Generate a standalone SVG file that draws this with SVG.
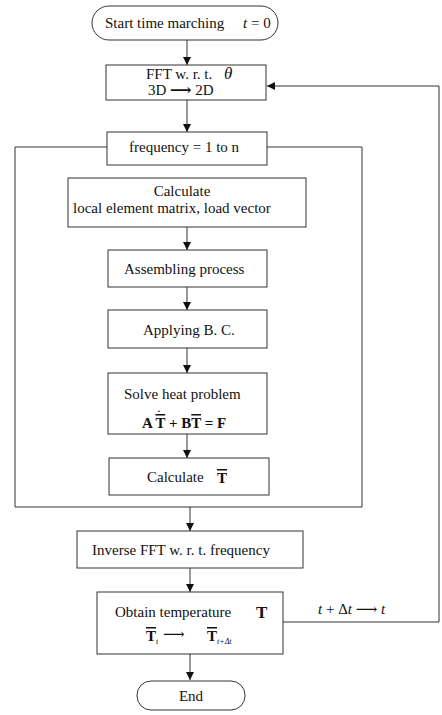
<svg xmlns="http://www.w3.org/2000/svg" width="442" height="715" viewBox="0 0 442 715">
<defs>
<marker id="ah" viewBox="0 0 10 10" refX="10" refY="5" markerWidth="8" markerHeight="8" markerUnits="userSpaceOnUse" orient="auto">
<path d="M0,0 L10,5 L0,10 z" fill="#111"/>
</marker>
<style>
.box{fill:#fff;stroke:#333;stroke-width:1}
.ln{fill:none;stroke:#333;stroke-width:1}
.ar{fill:none;stroke:#333;stroke-width:1;marker-end:url(#ah)}
text{font-family:"Liberation Serif","DejaVu Serif",serif;font-size:15px;fill:#111}
.it{font-style:italic}
.b{font-weight:bold}
.ov{text-decoration:overline}
.sub{font-size:8px;font-weight:normal;font-style:italic}
</style>
</defs>
<rect width="442" height="715" fill="#fff"/>
<g id="connectors">
<path class="ln" d="M107,147 H15 V507 H362 V147 H267"/>
<path class="ar" d="M187,40 V65"/>
<path class="ar" d="M187,100 V132"/>
<path class="ar" d="M187,227 V250"/>
<path class="ar" d="M187,287 V310"/>
<path class="ar" d="M187,348 V373"/>
<path class="ar" d="M187,434 V458"/>
<path class="ar" d="M190,507 V531"/>
<path class="ar" d="M190,568 V592"/>
<path class="ar" d="M190,654 V680"/>
<path class="ar" d="M283,622 H439 V86 H267"/>
<text x="318" y="614"><tspan class="it">t</tspan> + Δ<tspan class="it">t</tspan> ⟶ <tspan class="it">t</tspan></text>
</g>
<g id="start">
<rect class="box" x="92" y="6" width="186" height="34" rx="17"/>
<text x="105" y="28">Start time marching</text>
<text x="243" y="28"><tspan class="it">t</tspan> = 0</text>
</g>
<g id="fft">
<rect class="box" x="106" y="65" width="160" height="35"/>
<text x="146" y="79">FFT w. r. t.</text>
<text x="224" y="79" class="it" style="font-size:17px">θ</text>
<text x="148" y="95">3D <tspan class="b">⟶</tspan> 2D</text>
</g>
<g id="frequency">
<rect class="box" x="107" y="132" width="160" height="33"/>
<text x="129" y="152">frequency = 1 to n</text>
</g>
<g id="calc-local">
<rect class="box" x="68" y="178" width="238" height="49"/>
<text x="182" y="196" text-anchor="middle">Calculate</text>
<text x="73" y="213">local element matrix,  load vector</text>
</g>
<g id="assembling">
<rect class="box" x="108" y="250" width="159" height="37"/>
<text x="124" y="274">Assembling process</text>
</g>
<g id="bc">
<rect class="box" x="108" y="310" width="159" height="38"/>
<text x="143" y="335">Applying B. C.</text>
</g>
<g id="solve">
<rect class="box" x="108" y="373" width="159" height="61"/>
<text x="124" y="399">Solve heat problem</text>
<text x="142" y="428" class="b">A <tspan class="ov">T</tspan> + B<tspan class="ov">T</tspan> = F</text>
<text x="157" y="418" class="b" style="font-size:11px">˙</text>
</g>
<g id="calc-T">
<rect class="box" x="109" y="458" width="160" height="37"/>
<text x="147" y="482">Calculate</text>
<text x="217" y="483" class="b ov">T</text>
</g>
<g id="inverse">
<rect class="box" x="77" y="531" width="226" height="37"/>
<text x="92" y="555">Inverse FFT w. r. t. frequency</text>
</g>
<g id="obtain">
<rect class="box" x="97" y="592" width="186" height="62"/>
<text x="115" y="617">Obtain temperature</text>
<text x="256" y="618" class="b" style="font-size:17px">T</text>
<text x="146" y="641" class="b"><tspan class="ov">T</tspan><tspan class="sub" dy="3">t</tspan></text>
<text x="163" y="639">⟶</text>
<text x="207" y="641" class="b"><tspan class="ov">T</tspan><tspan class="sub" dy="3">t+Δt</tspan></text>
</g>
<g id="end">
<rect class="box" x="137" y="681" width="108" height="29" rx="14"/>
<text x="191" y="701" text-anchor="middle">End</text>
</g>
</svg>
